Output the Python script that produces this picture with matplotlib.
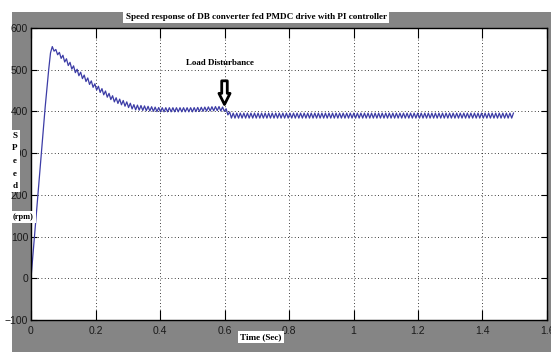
import numpy as np
import matplotlib
matplotlib.use("Agg")
import matplotlib.pyplot as plt
from matplotlib.patches import Rectangle

# Mean speed trace (time in s, speed in rpm)
t_key = [0.0, 0.045, 0.062, 0.10, 0.14, 0.20, 0.26, 0.32, 0.40, 0.50, 0.58, 0.600, 0.62, 0.80, 1.00, 1.20, 1.50]
speed_key = [0, 420, 555, 528, 497, 459, 428, 410, 404, 404, 407, 405, 390, 390, 390, 390, 390]
# half peak-to-peak ripple on top of the mean trace (rpm)
ripple_key = [0, 0, 3, 6, 6, 6, 6, 6, 5, 5, 5, 5, 6, 6, 6, 6, 6]
ripple_period = 0.011  # s

x_ticks = [0, 0.2, 0.4, 0.6, 0.8, 1.0, 1.2, 1.4, 1.6]
x_tick_labels = ["0", "0.2", "0.4", "0.6", "0.8", "1", "1.2", "1.4", "1.6"]
y_ticks = [-100, 0, 100, 200, 300, 400, 500, 600]

title = "Speed response of DB converter fed PMDC drive with PI controller"
note = "Load Disturbance"
t_disturb = 0.6

# zigzag ripple built from the read envelope
t = np.arange(0, t_key[-1] + 1e-9, ripple_period / 2)
sign = np.where(np.arange(len(t)) % 2 == 0, 1.0, -1.0)
speed = np.interp(t, t_key, speed_key) + sign * np.interp(t, t_key, ripple_key)

gray = "#858585"
fig = plt.figure(figsize=(5.51, 3.52), dpi=100, facecolor="white")
fig.patches.append(Rectangle((12 / 551, 0), 1, 1 - 12 / 352, transform=fig.transFigure,
                             facecolor=gray, edgecolor="none", zorder=-10))

ax = fig.add_axes([31 / 551, 1 - 320 / 352, 516 / 551, 292 / 352])
ax.set_facecolor("white")
ax.plot(t, speed, color="#3c3ca6", lw=0.9)

ax.set_xlim(0, 1.6)
ax.set_ylim(-100, 600)
ax.set_xticks(x_ticks)
ax.set_xticklabels(x_tick_labels)
ax.set_yticks(y_ticks)
ax.grid(True, color="black", linestyle=(0, (1, 3)), lw=0.6)
ax.tick_params(axis="both", direction="in", top=True, right=True, labelsize=7.5,
               colors="black", labelcolor="#1a1a1a", width=0.8)
ax.tick_params(axis="x", length=7, pad=4)
ax.tick_params(axis="y", length=4, pad=2)
for lab in ax.get_xticklabels() + ax.get_yticklabels():
    lab.set_family(["Liberation Sans Narrow", "Liberation Sans", "DejaVu Sans"])
for sp in ax.spines.values():
    sp.set_linewidth(1.0)

box = dict(facecolor="white", edgecolor="none", pad=1.5)
serif = ["Liberation Serif", "DejaVu Serif"]

fig.text(256 / 551, 1 - 17 / 352, title, ha="center", va="center", fontsize=6.6,
         fontweight="bold", family=serif, bbox=box)
fig.text(15 / 551, 1 - 161 / 352, "S\nP\ne\ne\nd", ha="center", va="center",
         fontsize=6.5, fontweight="bold", family=serif, linespacing=1.75, bbox=box)
fig.text(23 / 551, 1 - 217 / 352, "(rpm)", ha="center", va="center", fontsize=6,
         fontweight="bold", family=serif, bbox=box)
fig.text(261 / 551, 1 - 337 / 352, "Time (Sec)", ha="center", va="center", fontsize=6.6,
         fontweight="bold", family=serif, bbox=box)

ax.text(0.587, 515, note, ha="center", va="center", fontsize=6.4, fontweight="bold",
        family=serif)
ax.annotate("", xy=(t_disturb, 410), xytext=(t_disturb, 480),
            arrowprops=dict(arrowstyle="simple,head_length=0.8,head_width=0.8,tail_width=0.4",
                            facecolor="white", edgecolor="black", lw=2.0))

fig.savefig("out.png", dpi=100, facecolor=fig.get_facecolor())
